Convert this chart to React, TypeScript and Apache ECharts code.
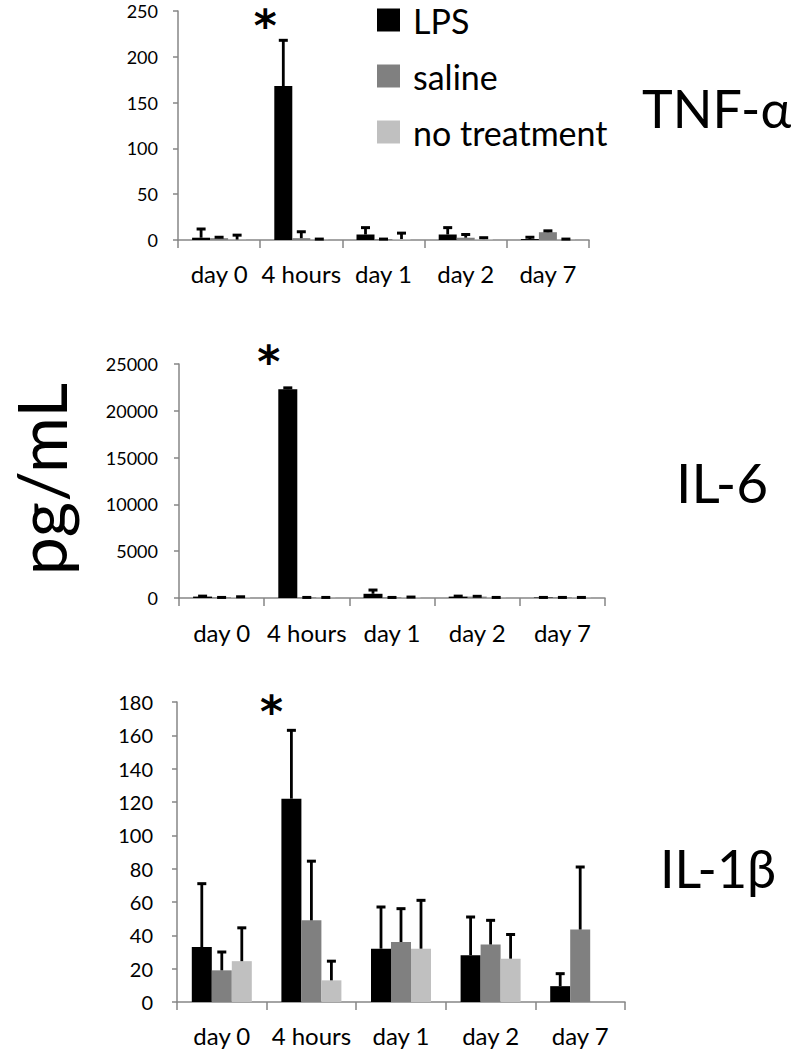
import React, { useEffect, useRef } from "react";
import * as echarts from "echarts";

const categories = ["day 0", "4 hours", "day 1", "day 2", "day 7"];
const seriesNames = ["LPS", "saline", "no treatment"];
const seriesColors = ["#000000", "#808080", "#c0c0c0"];

// TNF-alpha (pg/mL): bar means and top of error bars
const tnfLps = [2.5, 168, 6, 6, 1];
const tnfLpsErr = [12, 218, 13.5, 13.5, 3];
const tnfSaline = [2, 2, 1, 2.5, 8.5];
const tnfSalineErr = [3, 9, 1, 6, 10];
const tnfNone = [0.5, 0.5, 1, 1, 0.5];
const tnfNoneErr = [5.3, 1, 7.5, 2.5, 1];

// IL-6 (pg/mL)
const il6Lps = [150, 22300, 450, 150, 50];
const il6LpsErr = [200, 22450, 850, 200, 60];
const il6Saline = [50, 50, 50, 150, 50];
const il6SalineErr = [60, 60, 60, 180, 60];
const il6None = [100, 50, 80, 50, 50];
const il6NoneErr = [130, 60, 100, 60, 60];

// IL-1beta (pg/mL)
const il1Lps = [33, 122, 32, 28, 9.5];
const il1LpsErr = [71, 163, 57, 51, 17];
const il1Saline = [19, 49, 36, 34.5, 43.5];
const il1SalineErr = [30, 84.5, 56, 49, 81];
const il1None = [24.5, 13, 32, 26, null];
const il1NoneErr = [44.5, 24.5, 61, 40.5, null];

// y axis ranges
const tnfAxis = { min: 0, max: 250, interval: 50 };
const il6Axis = { min: 0, max: 25000, interval: 5000 };
const il1Axis = { min: 0, max: 180, interval: 20 };

// significance marker category
const starCategory = "4 hours";

const FONT = "Lato";

const panels = [
  {
    grid: { left: 178, right: 213, top: 11, bottom: 810 },
    axis: tnfAxis,
    values: [tnfLps, tnfSaline, tnfNone],
    errs: [tnfLpsErr, tnfSalineErr, tnfNoneErr],
    barWidth: 18,
    yFont: 18,
    xFont: 24,
    yMargin: 20,
    xMargin: 21,
    starDy: -15,
  },
  {
    grid: { left: 179, right: 197, top: 364, bottom: 452 },
    axis: il6Axis,
    values: [il6Lps, il6Saline, il6None],
    errs: [il6LpsErr, il6SalineErr, il6NoneErr],
    barWidth: 19,
    yFont: 18,
    xFont: 24,
    yMargin: 21,
    xMargin: 22,
    starDy: -26,
  },
  {
    grid: { left: 177, right: 177, top: 702, bottom: 48 },
    axis: il1Axis,
    values: [il1Lps, il1Saline, il1None],
    errs: [il1LpsErr, il1SalineErr, il1NoneErr],
    barWidth: 20,
    yFont: 20,
    xFont: 24,
    yMargin: 24,
    xMargin: 21,
    starDy: -19,
  },
];

export default function App() {
  const ref = useRef<HTMLDivElement>(null);

  useEffect(() => {
    if (!ref.current) return;
    const chart = echarts.init(ref.current, undefined, { renderer: "svg" });

    const grids: any[] = [];
    const xAxes: any[] = [];
    const yAxes: any[] = [];
    const series: any[] = [];

    panels.forEach((p, gi) => {
      grids.push({ ...p.grid, containLabel: false });
      xAxes.push({
        type: "category",
        gridIndex: gi,
        data: categories,
        boundaryGap: true,
        axisLine: { lineStyle: { color: "#868686", width: 1.5 } },
        axisTick: { show: true, length: 8, lineStyle: { color: "#868686", width: 1.5 } },
        axisLabel: {
          color: "#000",
          fontFamily: FONT,
          fontSize: p.xFont,
          margin: p.xMargin,
          interval: 0,
        },
      });
      yAxes.push({
        type: "value",
        gridIndex: gi,
        min: p.axis.min,
        max: p.axis.max,
        interval: p.axis.interval,
        axisLine: { show: true, lineStyle: { color: "#868686", width: 1.5 } },
        axisTick: { show: true, length: 5, lineStyle: { color: "#868686", width: 1.5 } },
        splitLine: { show: false },
        axisLabel: {
          color: "#000",
          fontFamily: FONT,
          fontSize: p.yFont,
          lineHeight: p.yFont,
          margin: p.yMargin,
          formatter: (v: number) => String(v),
        },
      });

      seriesNames.forEach((name, si) => {
        const s: any = {
          type: "bar",
          name,
          xAxisIndex: gi,
          yAxisIndex: gi,
          data: p.values[si],
          barWidth: p.barWidth,
          barGap: "0%",
          itemStyle: { color: seriesColors[si] },
          z: 2,
        };
        if (si === 0) {
          const idx = categories.indexOf(starCategory);
          s.markPoint = {
            symbol: "circle",
            symbolSize: 1,
            itemStyle: { color: "rgba(0,0,0,0)" },
            silent: true,
            data: [
              {
                coord: [starCategory, p.errs[0][idx]],
                label: {
                  show: true,
                  formatter: "*",
                  position: "inside",
                  offset: [-p.barWidth, p.starDy],
                  fontFamily: "DejaVu Sans",
                  fontWeight: "bold",
                  fontSize: 44,
                  lineHeight: 44,
                  color: "#000",
                },
              },
            ],
          };
        }
        series.push(s);
      });

      const errData: any[] = [];
      seriesNames.forEach((_, si) => {
        p.values[si].forEach((v: any, ci: number) => {
          const e = p.errs[si][ci];
          if (v == null || e == null) return;
          errData.push([ci, v, e, si]);
        });
      });
      const bw = p.barWidth;
      series.push({
        type: "custom",
        name: "err" + gi,
        xAxisIndex: gi,
        yAxisIndex: gi,
        data: errData,
        encode: { x: 0, y: [1, 2] },
        z: 5,
        silent: true,
        renderItem: (params: any, api: any) => {
          const ci = api.value(0);
          const v = api.value(1);
          const e = api.value(2);
          const k = api.value(3);
          const b = api.coord([ci, v]);
          const t = api.coord([ci, e]);
          const x = b[0] + (k - 1) * bw;
          return {
            type: "group",
            children: [
              {
                type: "line",
                shape: { x1: x, y1: b[1], x2: x, y2: t[1] },
                style: { stroke: "#000", lineWidth: 2.8 },
              },
              {
                type: "line",
                shape: { x1: x - 4.5, y1: t[1], x2: x + 4.5, y2: t[1] },
                style: { stroke: "#000", lineWidth: 3 },
              },
            ],
          };
        },
      });
    });

    chart.setOption({
      animation: false,
      backgroundColor: "#fff",
      grid: grids,
      xAxis: xAxes,
      yAxis: yAxes,
      series,
      legend: {
        data: seriesNames,
        orient: "vertical",
        left: 377,
        top: 3,
        padding: 0,
        icon: "rect",
        itemWidth: 23,
        itemHeight: 23,
        itemGap: 22,
        selectedMode: false,
        textStyle: {
          fontFamily: FONT,
          fontSize: 34,
          lineHeight: 34,
          color: "#000",
          padding: [0, 0, 0, 8],
        },
      },
      graphic: [
        {
          type: "text",
          left: 642,
          top: 82,
          style: { text: "TNF-α", font: `52px ${FONT}`, fill: "#000" },
        },
        {
          type: "text",
          left: 676,
          top: 454,
          style: { text: "IL-6", font: `55px ${FONT}`, fill: "#000" },
        },
        {
          type: "text",
          left: 660,
          top: 842,
          style: { text: "IL-1β", font: `52px ${FONT}`, fill: "#000" },
        },
        {
          type: "text",
          x: 40,
          y: 479,
          rotation: Math.PI / 2,
          style: {
            text: "pg/mL",
            font: `68px ${FONT}`,
            lineHeight: 68,
            fill: "#000",
            align: "center",
            verticalAlign: "middle",
          },
        },
      ],
    });

    return () => chart.dispose();
  }, []);

  return (
    <div
      ref={ref}
      style={{ position: "fixed", left: 0, top: 0, width: 802, height: 1050, background: "#fff" }}
    />
  );
}
